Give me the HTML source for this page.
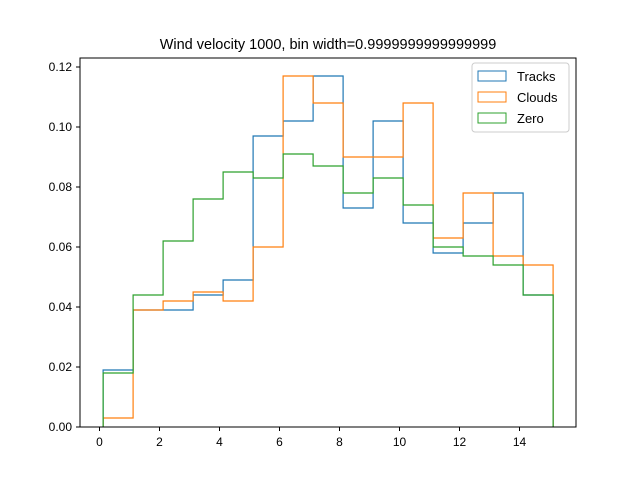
<!DOCTYPE html>
<html><head><meta charset="utf-8"><style>body{margin:0;background:#fff}svg{font-family:"Liberation Sans","DejaVu Sans",sans-serif}</style></head>
<body>
<svg id="c" width="640" height="480" xmlns="http://www.w3.org/2000/svg">
<rect width="640" height="480" fill="#fff"/>
<text x="328" y="49" font-size="14.5" text-anchor="middle">Wind velocity 1000, bin width=0.9999999999999999</text>
<g id="plot"></g>
<rect x="80" y="58" width="496" height="369" fill="none" stroke="#000" stroke-width="1"/>
<g id="legend">
<rect x="472" y="63" width="97" height="69" fill="#fff" stroke="#ccc" rx="3"/>
</g>
</svg>
<script>
const binStart = 0.12;
const binWidth = 1;
const tracks = [0.019,0.039,0.039,0.044,0.049,0.097,0.102,0.117,0.073,0.102,0.068,0.058,0.068,0.078,0.044];
const clouds = [0.003,0.039,0.042,0.045,0.042,0.060,0.117,0.108,0.090,0.090,0.108,0.063,0.078,0.057,0.054];
const zero = [0.018,0.044,0.062,0.076,0.085,0.083,0.091,0.087,0.078,0.083,0.074,0.060,0.057,0.054,0.044];
const seriesNames = ["Tracks","Clouds","Zero"];
const xTicks = [0,2,4,6,8,10,12,14];
const yTicks = [0,0.02,0.04,0.06,0.08,0.10,0.12];
const yTickLabels = ["0.00","0.02","0.04","0.06","0.08","0.10","0.12"];

const NS="http://www.w3.org/2000/svg";
const X = v => 99.5 + v*30.0;
const Y = v => 427 - v*3000;
const plot=document.getElementById('plot');
function mk(t,a,p){const e=document.createElementNS(NS,t);for(const k in a)e.setAttribute(k,a[k]);(p||plot).appendChild(e);return e;}
const colors=["#1f77b4","#ff7f0e","#2ca02c"];
[tracks,clouds,zero].forEach((s,i)=>{
  let d="M"+X(binStart)+","+Y(0);
  s.forEach((v,j)=>{const x0=X(binStart+j*binWidth),x1=X(binStart+(j+1)*binWidth);d+=" L"+x0+","+Y(v)+" L"+x1+","+Y(v);});
  d+=" L"+X(binStart+s.length*binWidth)+","+Y(0);
  const p=mk('path',{d:d,fill:'none',stroke:colors[i],'stroke-width':1.2});
  
  
});
xTicks.forEach(t=>{
  const l=mk('line',{x1:X(t),x2:X(t),y1:427,y2:431,stroke:'#000'});
  
  
  const tx=mk('text',{x:X(t),y:446,'font-size':12,'text-anchor':'middle'});tx.textContent=t;
  
  
});
yTicks.forEach((t,i)=>{
  const l=mk('line',{x1:76,x2:80,y1:Y(t),y2:Y(t),stroke:'#000'});
  
  
  const tx=mk('text',{x:72,y:Y(t)+4,'font-size':12,'text-anchor':'end'});tx.textContent=yTickLabels[i];
  
  
});
const lg=document.getElementById('legend');
seriesNames.forEach((n,i)=>{
  const y=69+i*21;
  const r=mk('rect',{x:478,y:y+2,width:28,height:10,fill:'none',stroke:colors[i]},lg);
  
  
  const t=mk('text',{x:517,y:y+12,'font-size':13},lg);t.textContent=n;
  
  
});
</script>
</body></html>
